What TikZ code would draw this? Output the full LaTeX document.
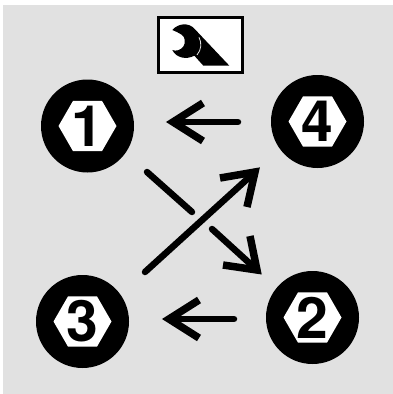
\documentclass[tikz,border=0pt]{standalone}
\usepackage{fontspec}
\setmainfont{TeX Gyre Heros}
\usetikzlibrary{shapes.geometric,arrows.meta}
\definecolor{panel}{HTML}{E1E1E1}
\tikzset{
  bolt/.style={circle,fill=black,minimum size=93pt,inner sep=0pt},
  hexa/.style={regular polygon,regular polygon sides=6,fill=white,minimum size=58pt,inner sep=0pt},
  digit/.style={font=\fontsize{57pt}{57pt}\selectfont\bfseries,text=black,inner sep=0pt},
  flow/.style={line width=6.5pt,line cap=round,draw=black},
  barbs/.style={line width=7.5pt,line cap=butt,line join=miter,miter limit=10,draw=black},
}
\begin{document}
\begin{tikzpicture}[x=1pt,y=-1pt]
\useasboundingbox (0,0) rectangle (393,394);
\fill[panel] (3,5) rectangle (393,394);
% wrench box
\node[draw=black,fill=white,line width=2.2pt,minimum width=84pt,minimum height=55pt,inner sep=0pt] (box) at (200.5,45) {};
\begin{scope}[shift={(140pt,0pt)},x=0.3333pt,y=-0.3333pt]
\fill[black] (97,90) .. controls (112,72) and (145,64) .. (165,88)
  -- (268,197) -- (190,197) -- (163,167)
  .. controls (140,180) and (108,174) .. (97,150)
  .. controls (108,155) and (122,150) .. (130,140)
  .. controls (138,128) and (135,110) .. (125,104)
  .. controls (116,98) and (106,94) .. (97,90) -- cycle;
\draw[panel,line width=0.8pt] (177,112) .. controls (186,128) and (184,150) .. (171,165);
\end{scope}
% bolts
\node[bolt] (b1) at (87.5,126) {};
\node[hexa] (h1) at (b1.center) {};
\node[digit] (d1) at (b1.center) {1};
\node[bolt] (b4) at (317.5,121.5) {};
\node[hexa] (h4) at (b4.center) {};
\node[digit] (d4) at (b4.center) {4};
\node[bolt] (b3) at (82.5,321.5) {};
\node[hexa] (h3) at (b3.center) {};
\node[digit] (d3) at (b3.center) {3};
\node[bolt] (b2) at (312.5,317.5) {};
\node[hexa] (h2) at (b2.center) {};
\node[digit] (d2) at (b2.center) {2};
% arrow 4 -> 1
\coordinate (t41) at (238,122); \coordinate (p41) at (173,122);
\coordinate (u41) at (203,103); \coordinate (v41) at (203,141);
\draw[flow] (t41) -- (p41);
\draw[barbs] (u41) -- (p41) -- (v41);
% arrow 2 -> 3
\coordinate (t23) at (234,319); \coordinate (p23) at (169,319);
\coordinate (u23) at (199,300); \coordinate (v23) at (199,338);
\draw[flow] (t23) -- (p23);
\draw[barbs] (u23) -- (p23) -- (v23);
% arrow 3 -> 4
\coordinate (t34) at (145,272); \coordinate (p34) at (255,172);
\coordinate (u34) at (220,178); \coordinate (v34) at (247,207);
\draw[flow] (t34) -- (p34);
\draw[barbs] (u34) -- (p34) -- (v34);
% arrow 1 -> 2, broken where it passes under
\coordinate (t12) at (147,172); \coordinate (m12a) at (192,212);
\coordinate (m12b) at (212,229); \coordinate (p12) at (257,270);
\coordinate (u12) at (223,265); \coordinate (v12) at (250,236);
\draw[flow] (t12) -- (m12a);
\draw[flow] (m12b) -- (p12);
\draw[barbs] (u12) -- (p12) -- (v12);
\end{tikzpicture}
\end{document}
